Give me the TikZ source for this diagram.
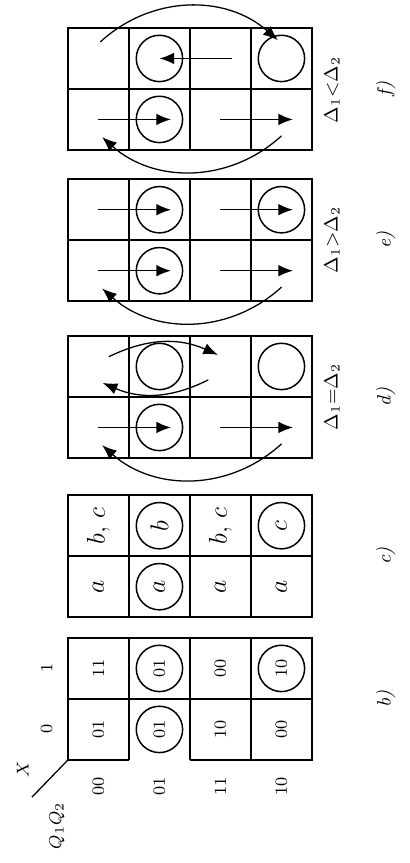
\documentclass[tikz,border=0pt]{standalone}
\usepackage{tikz}
\usetikzlibrary{arrows.meta, calc}

\tikzset{
  gridline/.style={line width=0.6pt},
  gridbold/.style={line width=1pt},
  state/.style={draw, circle, minimum size=7.6mm, inner sep=0pt, line width=0.7pt, font=\footnotesize},
  entry/.style={font=\footnotesize, inner sep=1pt},
  sym/.style={font=\large, inner sep=1pt},
  trans/.style={-{Latex[length=2.4mm, width=1.9mm]}, line width=0.7pt},
  loopback/.style={trans, line width=0.6pt},
  caption/.style={font=\small\itshape},
  cond/.style={font=\small},
}

\begin{document}
\begin{tikzpicture}[rotate=90, transform shape]
  \useasboundingbox (-1.69,-1.607) rectangle (12.458,5.114);
  % the five maps
  \foreach \px/\pn in {0/b, 2.34/c, 4.95/d, 7.52/e, 10.0/f} {
    \draw[gridline] (\px,1) -- ++(2,0) (\px,3) -- ++(2,0);
    \draw[gridbold] (\px,2) -- ++(2,0) (\px+1,0) -- ++(0,4);
    \draw[gridbold] (\px,2) -- (\px,0) -| (\px+2,4) -| (\px,3);
    \foreach \q/\y in {00/3.5, 01/2.5, 11/1.5, 10/0.5} {
      \coordinate (\pn-\q-0) at (\px+0.5,\y);
      \coordinate (\pn-\q-1) at (\px+1.5,\y);
    }
    \node[caption] (\pn-cap) at (\px+1,-1.21) {\pn)};
  }
  \foreach \px in {2.34, 4.95, 7.52, 10.0}
    \draw[gridbold] (\px,3) -- (\px,2);

  % b) headings
  \node[entry] (b-h0) at (0.5,4.35) {0};
  \node[entry] (b-h1) at (1.5,4.35) {1};
  \foreach \q/\y in {00/3.5, 01/2.5, 11/1.5, 10/0.5}
    \node[entry] (b-r\q) at (-0.44,\y) {\q};
  \coordinate (b-corner) at (0,4);
  \coordinate (b-diag) at (-0.61,4.59);
  \draw[gridline] (b-corner) -- (b-diag);
  \node[entry] (b-x) at (-0.15,4.74) {$X$};
  \node[entry] (b-q) at (-1.08,4.18) {$Q_1Q_2$};

  % b) entries
  \node[entry] (b-00-0t) at (b-00-0) {01};
  \node[entry] (b-00-1t) at (b-00-1) {11};
  \node[state] (b-01-0s) at (b-01-0) {01};
  \node[state] (b-01-1s) at (b-01-1) {01};
  \node[entry] (b-11-0t) at (b-11-0) {10};
  \node[entry] (b-11-1t) at (b-11-1) {00};
  \node[entry] (b-10-0t) at (b-10-0) {00};
  \node[state] (b-10-1s) at (b-10-1) {10};

  % c) entries
  \node[sym] (c-00-0t) at (c-00-0) {$a$};
  \node[sym] (c-00-1t) at (c-00-1) {$b,\,c$};
  \node[state, font=\large] (c-01-0s) at (c-01-0) {$a$};
  \node[state, font=\large] (c-01-1s) at (c-01-1) {$b$};
  \node[sym] (c-11-0t) at (c-11-0) {$a$};
  \node[sym] (c-11-1t) at (c-11-1) {$b,\,c$};
  \node[sym] (c-10-0t) at (c-10-0) {$a$};
  \node[state, font=\large] (c-10-1s) at (c-10-1) {$c$};

  % d) e) f) stable states and common moves
  \foreach \pn in {d,e,f} {
    \node[state] (\pn-01-0s) at (\pn-01-0) {};
    \node[state] (\pn-01-1s) at (\pn-01-1) {};
    \node[state] (\pn-10-1s) at (\pn-10-1) {};
    \draw[trans] (\pn-00-0) -- ($(\pn-01-0)+(0,-0.19)$);
    \draw[trans] (\pn-11-0) -- ($(\pn-10-0)+(0,-0.19)$);
    \draw[loopback] ($(\pn-10-0)+(-0.27,0)$) to[bend left=42] ($(\pn-00-0)+(-0.29,-0.06)$);
  }

  % d) oscillation
  \draw[loopback] ($(d-00-1)+(0.16,-0.17)$) to[bend left=25] ($(d-11-1)+(0.19,0.04)$);
  \draw[loopback] ($(d-11-1)+(-0.22,0.2)$) to[bend left=25] ($(d-00-1)+(-0.27,-0.07)$);

  % e)
  \draw[trans] (e-00-1) -- ($(e-01-1)+(0,-0.19)$);
  \draw[trans] (e-11-1) -- ($(e-10-1)+(0,-0.19)$);

  % f)
  \draw[trans] ($(f-11-1)+(0,-0.19)$) -- (f-01-1);
  \draw[loopback] ($(f-00-1)+(0.27,-0.03)$) to[bend left=42] ($(f-10-1)+(0.3,0.06)$);

  % conditions
  \node[cond] (d-cond) at (5.95,-0.33) {$\Delta_1{=}\Delta_2$};
  \node[cond] (e-cond) at (8.52,-0.33) {$\Delta_1{>}\Delta_2$};
  \node[cond] (f-cond) at (10.98,-0.33) {$\Delta_1{<}\Delta_2$};
\end{tikzpicture}
\end{document}
